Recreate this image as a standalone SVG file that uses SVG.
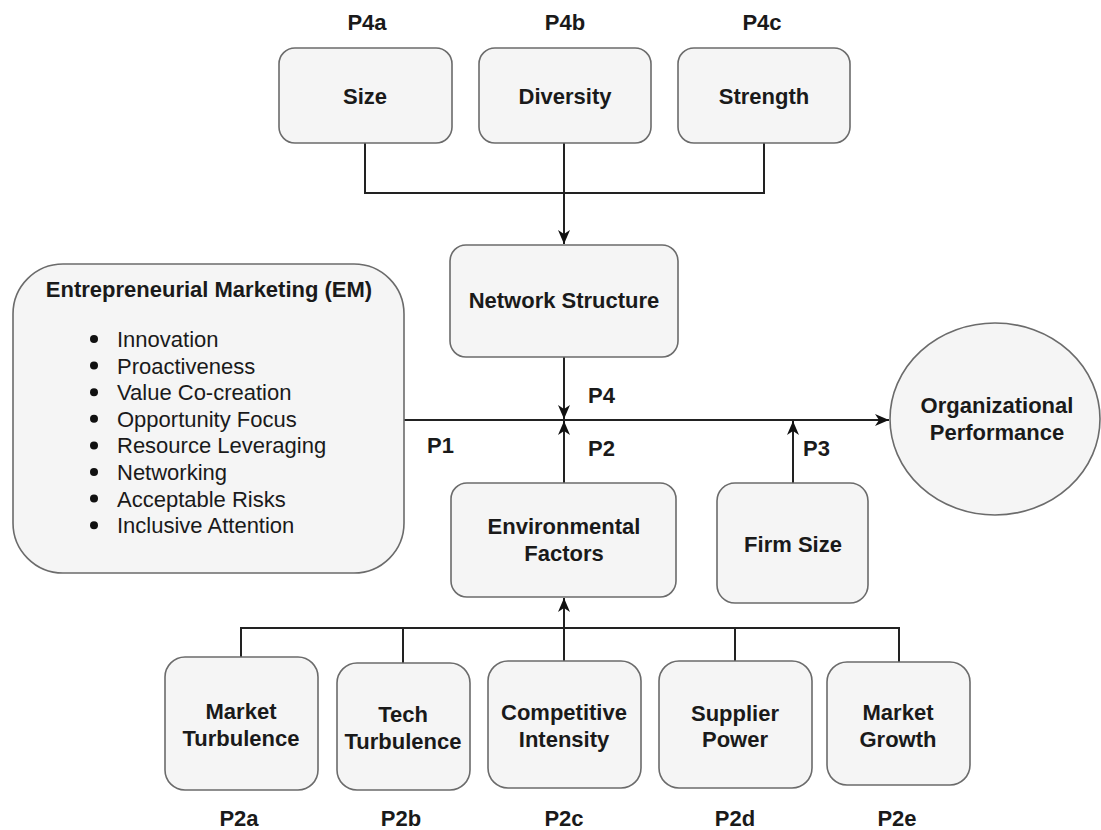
<svg xmlns="http://www.w3.org/2000/svg" width="1101" height="830" viewBox="0 0 1101 830">
<style>
.box{fill:#f5f5f5;stroke:#6b6b6b;stroke-width:1.6}
.t{font-family:"Liberation Sans",Arial,sans-serif;font-size:22px;fill:#1a1a1a;text-anchor:middle}
.b{font-weight:bold}
.l{font-family:"Liberation Sans",Arial,sans-serif;font-size:22px;fill:#1a1a1a;text-anchor:start}
.c{fill:none;stroke:#222;stroke-width:2}
.dot{fill:#111}
</style>
<defs>
<marker id="arr" markerUnits="userSpaceOnUse" viewBox="0 0 14 14" refX="14" refY="7" markerWidth="14" markerHeight="14" orient="auto">
<path d="M0,1 L14,7 L0,13 L4,7 z" fill="#111"/>
</marker>
</defs>
<rect width="1101" height="830" fill="#ffffff"/>

<g id="connectors">
<polyline class="c" points="365,143 365,193 764,193 764,143"/>
<line class="c" x1="564" y1="143" x2="564" y2="244" marker-end="url(#arr)"/>
<line class="c" x1="564" y1="357" x2="564" y2="419" marker-end="url(#arr)"/>
<line class="c" x1="404" y1="420" x2="889" y2="420" marker-end="url(#arr)"/>
<line class="c" x1="564" y1="483" x2="564" y2="421" marker-end="url(#arr)"/>
<line class="c" x1="793" y1="483" x2="793" y2="421" marker-end="url(#arr)"/>
<polyline class="c" points="241,657 241,628 899,628 899,662"/>
<line class="c" x1="403" y1="628" x2="403" y2="663"/>
<line class="c" x1="735" y1="628" x2="735" y2="661"/>
<line class="c" x1="564" y1="661" x2="564" y2="598" marker-end="url(#arr)"/>
</g>

<g id="labels">
<text class="t b" x="367" y="30">P4a</text>
<text class="t b" x="565" y="30">P4b</text>
<text class="t b" x="762" y="30">P4c</text>
<text class="l b" x="588" y="403">P4</text>
<text class="l b" x="427" y="453">P1</text>
<text class="l b" x="588" y="456">P2</text>
<text class="l b" x="803" y="456">P3</text>
<text class="t b" x="239" y="826">P2a</text>
<text class="t b" x="401" y="826">P2b</text>
<text class="t b" x="564" y="826">P2c</text>
<text class="t b" x="735" y="826">P2d</text>
<text class="t b" x="897" y="826">P2e</text>
</g>

<g id="size">
<rect class="box" x="279" y="48" width="173" height="95" rx="16"/>
<text class="t b" x="365" y="104">Size</text>
</g>
<g id="diversity">
<rect class="box" x="479" y="48" width="172" height="95" rx="16"/>
<text class="t b" x="565" y="104">Diversity</text>
</g>
<g id="strength">
<rect class="box" x="678" y="48" width="172" height="95" rx="16"/>
<text class="t b" x="764" y="104">Strength</text>
</g>

<g id="network">
<rect class="box" x="450" y="245" width="228" height="112" rx="16"/>
<text class="t b" x="564" y="308">Network Structure</text>
</g>

<g id="em">
<rect class="box" x="13" y="264" width="391" height="309" rx="50"/>
<text class="t b" x="209" y="297">Entrepreneurial Marketing (EM)</text>
<circle class="dot" cx="94" cy="339" r="4"/>
<circle class="dot" cx="94" cy="365.6" r="4"/>
<circle class="dot" cx="94" cy="392.2" r="4"/>
<circle class="dot" cx="94" cy="418.8" r="4"/>
<circle class="dot" cx="94" cy="445.4" r="4"/>
<circle class="dot" cx="94" cy="472" r="4"/>
<circle class="dot" cx="94" cy="498.6" r="4"/>
<circle class="dot" cx="94" cy="525.2" r="4"/>
<text class="l" x="117" y="347">Innovation</text>
<text class="l" x="117" y="373.6">Proactiveness</text>
<text class="l" x="117" y="400.2">Value Co-creation</text>
<text class="l" x="117" y="426.8">Opportunity Focus</text>
<text class="l" x="117" y="453.4">Resource Leveraging</text>
<text class="l" x="117" y="480">Networking</text>
<text class="l" x="117" y="506.6">Acceptable Risks</text>
<text class="l" x="117" y="533.2">Inclusive Attention</text>
</g>

<g id="performance">
<ellipse class="box" cx="995" cy="419" rx="105" ry="96"/>
<text class="t b" x="997" y="413">Organizational</text>
<text class="t b" x="997" y="440">Performance</text>
</g>

<g id="environmental">
<rect class="box" x="451" y="483" width="225" height="114" rx="16"/>
<text class="t b" x="564" y="534">Environmental</text>
<text class="t b" x="564" y="561">Factors</text>
</g>

<g id="firmsize">
<rect class="box" x="717" y="483" width="151" height="120" rx="18"/>
<text class="t b" x="793" y="552">Firm Size</text>
</g>

<g id="market-turbulence">
<rect class="box" x="165" y="657" width="153" height="133" rx="20"/>
<text class="t b" x="241" y="719">Market</text>
<text class="t b" x="241" y="746">Turbulence</text>
</g>
<g id="tech-turbulence">
<rect class="box" x="337" y="663" width="133" height="127" rx="20"/>
<text class="t b" x="403" y="722">Tech</text>
<text class="t b" x="403" y="749">Turbulence</text>
</g>
<g id="competitive-intensity">
<rect class="box" x="488" y="661" width="153" height="127" rx="20"/>
<text class="t b" x="564" y="720">Competitive</text>
<text class="t b" x="564" y="747">Intensity</text>
</g>
<g id="supplier-power">
<rect class="box" x="659" y="661" width="153" height="127" rx="20"/>
<text class="t b" x="735" y="721">Supplier</text>
<text class="t b" x="735" y="747">Power</text>
</g>
<g id="market-growth">
<rect class="box" x="827" y="662" width="143" height="123" rx="20"/>
<text class="t b" x="898" y="720">Market</text>
<text class="t b" x="898" y="747">Growth</text>
</g>
</svg>
